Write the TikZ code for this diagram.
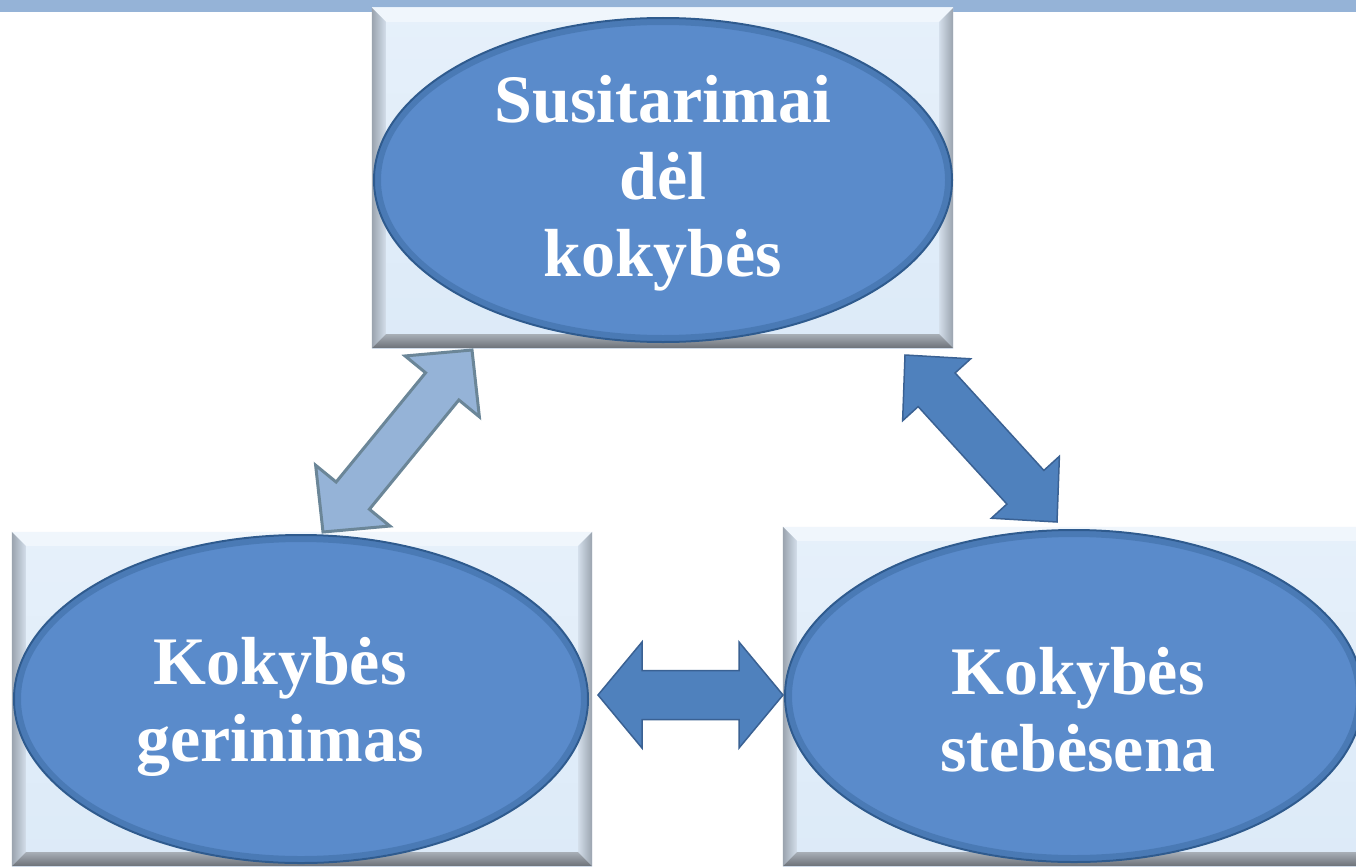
\documentclass[tikz,border=0pt]{standalone}
\usepackage{fontspec}
\setmainfont{Liberation Serif}
\usetikzlibrary{calc}
\definecolor{band}{HTML}{95B3D7}
\definecolor{face}{HTML}{DCEAF8}
\definecolor{facetop}{HTML}{E6F0FA}
\definecolor{bvlight}{HTML}{F0F6FC}
\definecolor{bvgray}{HTML}{9AA3AE}
\definecolor{bvgrayin}{HTML}{D3DEEA}
\definecolor{bvdark}{HTML}{6C7178}
\definecolor{bvdarkin}{HTML}{A7AEB6}
\definecolor{ellfill}{HTML}{5A8BCB}
\definecolor{elledge}{HTML}{2F5B8E}
\definecolor{arrdark}{HTML}{4F81BD}
\definecolor{arrdarkedge}{HTML}{3A6193}
\definecolor{arrlight}{HTML}{95B3D7}
\definecolor{arrlightedge}{HTML}{6B8698}
\tikzset{
  boxface/.style={rectangle, inner sep=0pt, top color=facetop, bottom color=face},
  blob/.style={ellipse, inner sep=0pt, fill=ellfill, draw=elledge, line width=2pt},
  rim/.style={draw=elledge, line width=6pt, opacity=0.35},
  lbl/.style={text=white, align=center, inner sep=0pt,
    font=\bfseries\fontsize{68}{77}\selectfont},
  darkarrow/.style={fill=arrdark, draw=arrdarkedge, line width=1.5pt, line join=miter},
  lightarrow/.style={fill=arrlight, draw=arrlightedge, line width=3pt, line join=miter},
}
\usetikzlibrary{shapes.geometric}
% double block arrow: #1 tip A, #2 tip B, #3 head length, #4 head half-width, #5 shaft half-width, #6 style
\newcommand\dblarr[6]{%
  \draw[#6] (#1)
    -- ($(#1)!#3!(#2)!#4!90:(#2)$)
    -- ($(#1)!#3!(#2)!#5!90:(#2)$)
    -- ($(#2)!#3!(#1)!#5!-90:(#1)$)
    -- ($(#2)!#3!(#1)!#4!-90:(#1)$)
    -- (#2)
    -- ($(#2)!#3!(#1)!#4!90:(#1)$)
    -- ($(#2)!#3!(#1)!#5!90:(#1)$)
    -- ($(#1)!#3!(#2)!#5!-90:(#2)$)
    -- ($(#1)!#3!(#2)!#4!-90:(#2)$)
    -- cycle;}
% bevel frame round a box node
\newcommand\bevelframe[1]{%
  \fill[bvlight] (#1.north west) -- (#1.north east) -- ($(#1.north east)+(-14,14)$) -- ($(#1.north west)+(14,14)$) -- cycle;
  \shade[left color=bvgray, right color=bvgrayin] (#1.north west) -- ($(#1.north west)+(14,14)$) -- ($(#1.south west)+(14,-14)$) -- (#1.south west) -- cycle;
  \shade[left color=bvgrayin, right color=bvgray] (#1.north east) -- ($(#1.north east)+(-14,14)$) -- ($(#1.south east)+(-14,-14)$) -- (#1.south east) -- cycle;
  \shade[top color=bvdarkin, bottom color=bvdark] (#1.south west) -- ($(#1.south west)+(14,-14)$) -- ($(#1.south east)+(-14,-14)$) -- (#1.south east) -- cycle;}
\begin{document}
\begin{tikzpicture}[x=1pt, y=-1pt]
\useasboundingbox (0,0) rectangle (1356,867);
\clip (0,0) rectangle (1356,867);
\fill[white] (0,0) rectangle (1356,867);
% top band
\fill[band] (0,0) rectangle (1356,12);
% boxes
\node[boxface, minimum width=581pt, minimum height=340pt] (boxT) at (662.5,178) {};
\bevelframe{boxT}
\node[boxface, minimum width=580pt, minimum height=334pt] (boxL) at (302,699) {};
\bevelframe{boxL}
\node[boxface, minimum width=590pt, minimum height=339pt] (boxR) at (1078,696.5) {};
\bevelframe{boxR}
% ellipses
\node[blob, minimum width=578pt, minimum height=324pt] (ellT) at (663,180) {};
\draw[rim] (663,180) ellipse [x radius=285pt, y radius=158pt];
\node[blob, minimum width=574pt, minimum height=328pt] (ellL) at (301,699) {};
\draw[rim] (301,699) ellipse [x radius=283pt, y radius=160pt];
\node[blob, minimum width=578pt, minimum height=332pt] (ellR) at (1074,696) {};
\draw[rim] (1074,696) ellipse [x radius=285pt, y radius=162pt];
% labels
\node[lbl] (txtT) at (663,183) {Susitarimai\\dėl\\kokybės};
\node[lbl] (txtL) at (280,707) {Kokybės\\gerinimas};
\node[lbl] (txtR) at (1078,710) {Kokybės\\stebėsena};
% arrow tips
\coordinate (a1) at (472,350);
\coordinate (b1) at (323,532);
\coordinate (a2) at (905,355);
\coordinate (b2) at (1057,522);
\coordinate (a3) at (598,695);
\coordinate (b3) at (783,695);
\dblarr{a1}{b1}{47pt}{48pt}{21.5pt}{lightarrow}
\dblarr{a2}{b2}{47pt}{46pt}{25pt}{darkarrow}
\dblarr{a3}{b3}{44pt}{53pt}{24.5pt}{darkarrow}
\end{tikzpicture}
\end{document}
